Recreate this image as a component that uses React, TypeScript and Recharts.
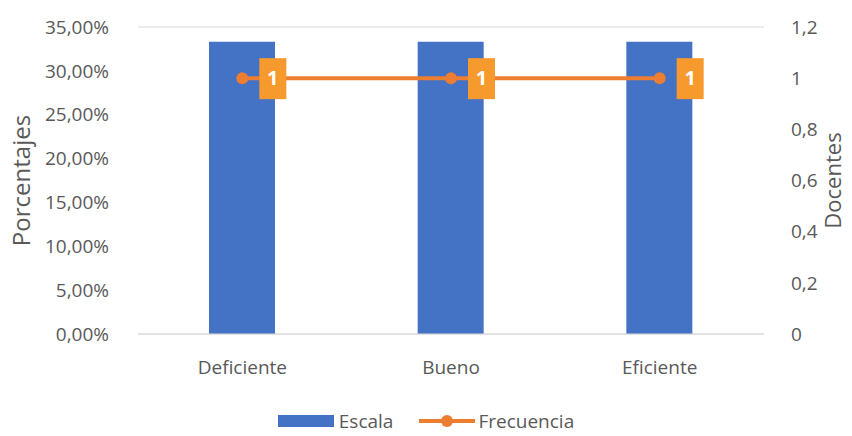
import {
  ComposedChart,
  Bar,
  Line,
  XAxis,
  YAxis,
  CartesianGrid,
  Legend,
  LabelList,
} from "recharts";

const categories = ["Deficiente", "Bueno", "Eficiente"];
const escala = [33.33, 33.33, 33.33];
const frecuencia = [1, 1, 1];
const leftTicks = [0, 5, 10, 15, 20, 25, 30, 35];
const rightTicks = [0, 0.2, 0.4, 0.6, 0.8, 1, 1.2];

const data = categories.map((name, i) => ({
  name,
  escala: escala[i],
  frecuencia: frecuencia[i],
}));

const FONT = "'Open Sans', sans-serif";
const GREY = "#595959";
const BLUE = "#4472c4";
const ORANGE = "#ed7d31";

const fmtPct = (v: number) => v.toFixed(2).replace(".", ",") + "%";
const fmtNum = (v: number) => String(Number(v.toFixed(1))).replace(".", ",");

const PointLabel = (props: any) => {
  const { x, y, value } = props;
  return (
    <g>
      <rect x={x + 17} y={y - 20} width={27} height={41} fill="#f79a2e" />
      <text
        x={x + 30.5}
        y={y + 1}
        textAnchor="middle"
        dominantBaseline="middle"
        fill="#fff"
        fontWeight="bold"
        fontSize={20}
        fontFamily={FONT}
      >
        {value}
      </text>
    </g>
  );
};

const LegendContent = () => (
  <div
    style={{
      display: "flex",
      justifyContent: "center",
      alignItems: "center",
      fontFamily: FONT,
      fontSize: 19,
      color: GREY,
      height: 30,
    }}
  >
    <span style={{ display: "inline-block", width: 56, height: 12, background: BLUE, marginRight: 5 }} />
    <span style={{ marginRight: 26 }}>Escala</span>
    <svg width={56} height={14} style={{ marginRight: 3 }}>
      <line x1={0} y1={7} x2={56} y2={7} stroke={ORANGE} strokeWidth={4} />
      <circle cx={28} cy={7} r={6} fill={ORANGE} />
    </svg>
    <span>Frecuencia</span>
  </div>
);

export default function App() {
  return (
    <div style={{ position: "absolute", left: 0, top: 0, background: "#fff" }}>
      <ComposedChart
        width={852}
        height={436}
        data={data}
        margin={{ top: 27, right: 0, left: 0, bottom: 0 }}
        style={{ fontFamily: FONT }}
      >
        <CartesianGrid vertical={false} stroke="#d9d9d9" />
        <XAxis
          dataKey="name"
          height={72}
          tickLine={false}
          axisLine={{ stroke: "#d9d9d9" }}
          tick={{ fill: GREY, fontSize: 19 }}
          tickMargin={21}
        />
        <YAxis
          yAxisId="left"
          width={138}
          domain={[0, 35]}
          ticks={leftTicks}
          tickFormatter={fmtPct}
          axisLine={false}
          tickLine={false}
          tick={{ fill: GREY, fontSize: 19 }}
          tickMargin={23}
          label={{ value: "Porcentajes", angle: -90, position: "center", dx: -48, fill: GREY, fontSize: 24 }}
        />
        <YAxis
          yAxisId="right"
          orientation="right"
          width={88}
          domain={[0, 1.2]}
          ticks={rightTicks}
          tickFormatter={fmtNum}
          axisLine={false}
          tickLine={false}
          tick={{ fill: GREY, fontSize: 19 }}
          tickMargin={21}
          label={{ value: "Docentes", angle: -90, position: "center", dx: 25, fill: GREY, fontSize: 22 }}
        />
        <Bar yAxisId="left" dataKey="escala" name="Escala" fill={BLUE} barSize={66} isAnimationActive={false} />
        <Line
          yAxisId="right"
          dataKey="frecuencia"
          name="Frecuencia"
          stroke={ORANGE}
          strokeWidth={4}
          dot={{ r: 6, fill: ORANGE, stroke: ORANGE, strokeWidth: 0 }}
          isAnimationActive={false}
        >
          <LabelList dataKey="frecuencia" content={PointLabel} />
        </Line>
        <Legend verticalAlign="bottom" content={LegendContent} wrapperStyle={{ height: 30, bottom: 0 }} />
      </ComposedChart>
    </div>
  );
}
